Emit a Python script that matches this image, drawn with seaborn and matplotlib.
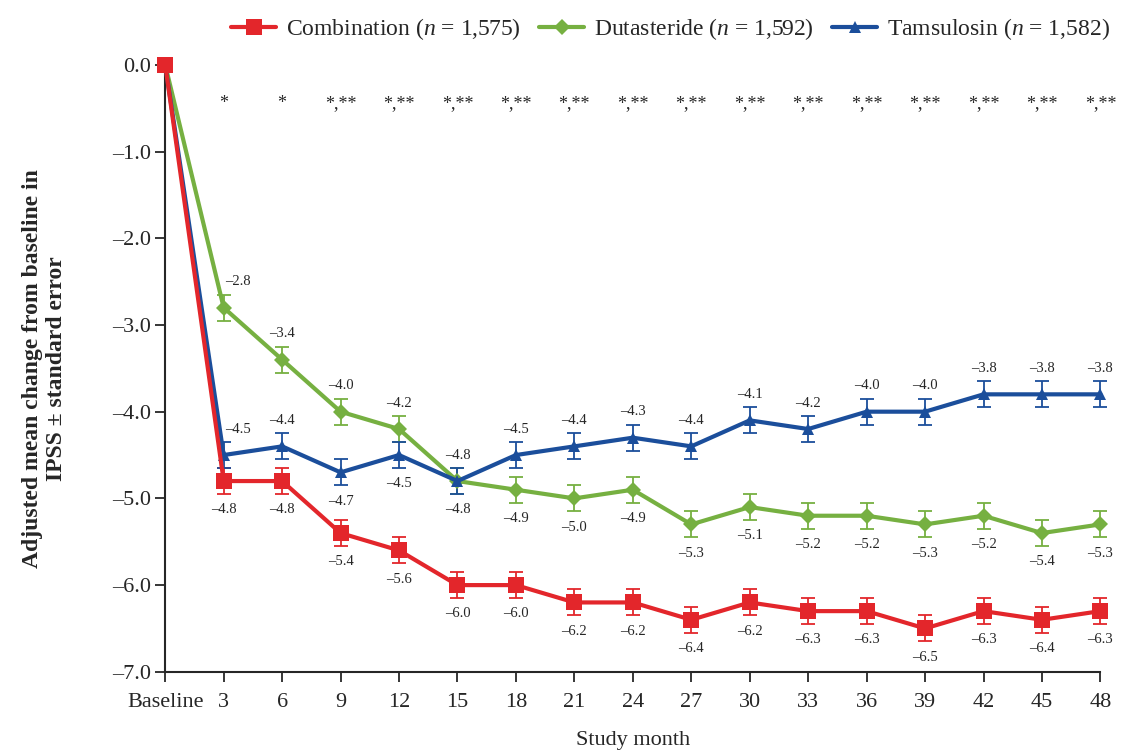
import pandas as pd
import seaborn as sns
import matplotlib.pyplot as plt

# 데이터
months = [0, 3, 6, 9, 12, 15, 18, 21, 24, 27, 30, 33, 36, 39, 42, 45, 48]
tick_labels = ['Baseline', '3', '6', '9', '12', '15', '18', '21', '24', '27',
               '30', '33', '36', '39', '42', '45', '48']
combination = [0.0, -4.8, -4.8, -5.4, -5.6, -6.0, -6.0, -6.2, -6.2, -6.4,
               -6.2, -6.3, -6.3, -6.5, -6.3, -6.4, -6.3]
dutasteride = [0.0, -2.8, -3.4, -4.0, -4.2, -4.8, -4.9, -5.0, -4.9, -5.3,
               -5.1, -5.2, -5.2, -5.3, -5.2, -5.4, -5.3]
tamsulosin = [0.0, -4.5, -4.4, -4.7, -4.5, -4.8, -4.5, -4.4, -4.3, -4.4,
              -4.1, -4.2, -4.0, -4.0, -3.8, -3.8, -3.8]
se = [0.0] + [0.15] * 16
signif = ['', '*', '*'] + ['*,**'] * 14

names = ['Combination', 'Dutasteride', 'Tamsulosin']
legend_labels = ['Combination ($n$ = 1,575)', 'Dutasteride ($n$ = 1,592)',
                 'Tamsulosin ($n$ = 1,582)']
colors = ['#E3262B', '#76B041', '#1B4E9B']
markers = ['s', 'D', '^']
msizes = [11, 8, 9]

df = pd.DataFrame({
    'month': months * 3,
    'change': combination + dutasteride + tamsulosin,
    'group': [n for n in names for _ in months],
})

sns.set_style('ticks')
plt.rcParams['font.family'] = ['Liberation Serif', 'DejaVu Serif']
plt.rcParams['mathtext.fontset'] = 'custom'
plt.rcParams['mathtext.it'] = 'Liberation Serif:italic'
plt.rcParams['axes.unicode_minus'] = True

fig = plt.figure(figsize=(11.24, 7.54), dpi=100)
ax = fig.add_axes([0.147, 0.109, 0.832, 0.805])

series = [combination, dutasteride, tamsulosin]
zs = [5, 3, 4]
for name, vals, c, m, ms, lab, z in zip(names, series, colors, markers, msizes, legend_labels, zs):
    sub = df[df['group'] == name]
    sns.lineplot(data=sub, x='month', y='change', color=c, marker=m,
                 markersize=ms, markeredgewidth=0, linewidth=3, ax=ax,
                 label=lab, clip_on=False, zorder=z)
    ax.errorbar(months, vals, yerr=se, fmt='none', ecolor=c, elinewidth=1.3,
                capsize=5, capthick=1.3, zorder=2, clip_on=False)

# 값 라벨 위치 (위/아래)
def put(x, y, above, dx=0):
    off = 14 if above else -16
    ax.annotate(f'{y:.1f}'.replace('-', '\u2013'), (x, y), xytext=(dx, off),
                textcoords='offset points', ha='center',
                va='bottom' if above else 'top', fontsize=10.5)

for i in range(1, len(months)):
    put(months[i], combination[i], False)
    put(months[i], dutasteride[i], i <= 4, dx=10 if i == 1 else 0)
    put(months[i], tamsulosin[i], not (i in (3, 4)), dx=10 if i == 1 else 0)

for mo, s in zip(months, signif):
    if s:
        ax.text(mo, -0.45, s, ha='center', va='center', fontsize=13)

ax.set_xlim(0, 48)
ax.set_ylim(-7, 0)
ax.set_xticks(months)
ax.set_xticklabels(tick_labels, fontsize=16)
yt = [0, -1, -2, -3, -4, -5, -6, -7]
ax.set_yticks(yt)
ax.set_yticklabels([f'{v:.1f}'.replace('-', '\u2013') for v in yt], fontsize=16)
ax.tick_params(direction='out', length=7, width=1.3)
ax.tick_params(axis='x', pad=8)
for s in ['left', 'bottom']:
    ax.spines[s].set_linewidth(1.5)
sns.despine(ax=ax)

ax.set_xlabel('Study month', fontsize=16, labelpad=14)
ax.set_ylabel('Adjusted mean change from baseline in\nIPSS \u00b1 standard error',
              fontsize=17, fontweight='bold', labelpad=32)

ax.legend(loc='lower right', bbox_to_anchor=(1.02, 1.022), ncol=3, frameon=False,
          fontsize=17, handlelength=1.9, handletextpad=0.4, columnspacing=0.8,
          borderaxespad=0)

fig.savefig('out.png', dpi=100)
